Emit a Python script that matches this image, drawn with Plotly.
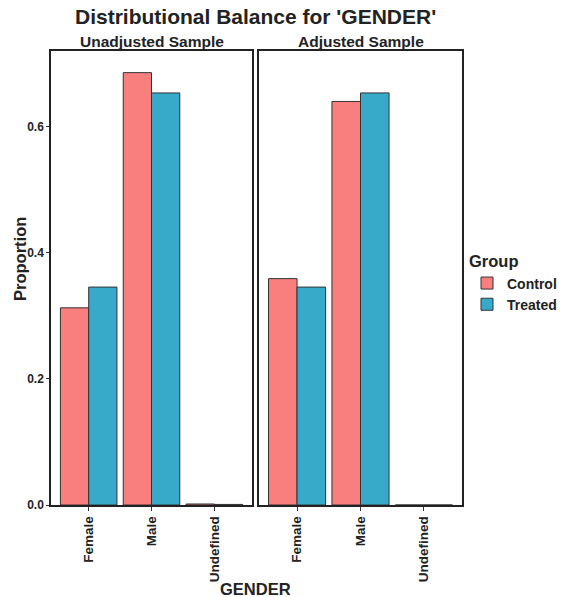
import plotly.graph_objects as go
from plotly.subplots import make_subplots

categories = ["Female", "Male", "Undefined"]
unadj_control = [0.3127, 0.6857, 0.0016]
unadj_treated = [0.3456, 0.6535, 0.0009]
adj_control = [0.3590, 0.6400, 0.0]
adj_treated = [0.3456, 0.6535, 0.0]
groups = ["Control", "Treated"]
colors = {"Control": "#F87F7E", "Treated": "#38AAC9"}
y_ticks = [0.0, 0.2, 0.4, 0.6]

FONT = "Liberation Sans, Arial, sans-serif"
W, H = 561, 597

fig = make_subplots(rows=1, cols=2, shared_yaxes=False)

panels = [(unadj_control, unadj_treated, 1), (adj_control, adj_treated, 2)]
for ctrl, trt, col in panels:
    for name, vals in (("Control", ctrl), ("Treated", trt)):
        fig.add_trace(go.Bar(
            x=categories, y=vals, name=name,
            marker=dict(color=colors[name], line=dict(color="#333333", width=1)),
            showlegend=(col == 1), legendgroup=name,
        ), row=1, col=col)

px = lambda v: v / W
py = lambda v: 1 - v / H

dom1 = [px(51), px(252)]
dom2 = [px(259), px(462)]
ydom = [py(505), py(51)]

axis_common = dict(
    showline=True, mirror=True, linecolor="#222222", linewidth=1.5,
    showgrid=False, zeroline=False, automargin=False,
)
fig.update_xaxes(**axis_common, type="category", range=[-0.6, 2.6],
                 ticks="outside", ticklen=4, tickcolor="#333333", tickwidth=1,
                 tickangle=-90,
                 tickfont=dict(family=FONT, size=13.5, color="#222222", weight="bold"))
fig.update_layout(xaxis=dict(domain=dom1), xaxis2=dict(domain=dom2))
fig.update_yaxes(**axis_common, range=[0, 0.72], domain=ydom)
fig.update_layout(
    yaxis=dict(tickvals=y_ticks, tickformat=".1f", ticks="outside", ticklen=3,
               tickcolor="#333333",
               tickfont=dict(family=FONT, size=12, color="#222222", weight="bold")),
    yaxis2=dict(showticklabels=False, ticks=""),
)

annotations = [
    dict(text="Distributional Balance for 'GENDER'", x=px(256), y=py(17),
         font=dict(size=21, weight="bold")),
    dict(text="Unadjusted Sample", x=px(151.5), y=py(41), font=dict(size=15.5, weight="bold")),
    dict(text="Adjusted Sample", x=px(360.5), y=py(41), font=dict(size=15.5, weight="bold")),
    dict(text="Proportion", x=px(20), y=py(259), textangle=-90, font=dict(size=16.5, weight="bold")),
    dict(text="GENDER", x=px(256), y=py(589), font=dict(size=16.5, weight="bold")),
]
for a in annotations:
    a.update(xref="paper", yref="paper", showarrow=False, xanchor="center", yanchor="middle")
    a["font"].update(family=FONT, color="#222222")

fig.update_layout(
    width=W, height=H,
    margin=dict(l=0, r=0, t=0, b=0, autoexpand=False),
    paper_bgcolor="white", plot_bgcolor="white",
    barmode="group", bargap=0.1, bargroupgap=0,
    annotations=annotations,
    legend=dict(
        title=dict(text="Group", font=dict(family=FONT, size=16.5, color="#222222", weight="bold")),
        font=dict(family=FONT, size=14, color="#222222", weight="bold"),
        x=px(467), y=py(246), xanchor="left", yanchor="top",
        tracegroupgap=0, itemwidth=30,
    ),
    font=dict(family=FONT),
)

fig.write_html("out.html", config={"displayModeBar": False},
               post_script="document.body.style.margin='0px';document.body.style.overflow='hidden';")
